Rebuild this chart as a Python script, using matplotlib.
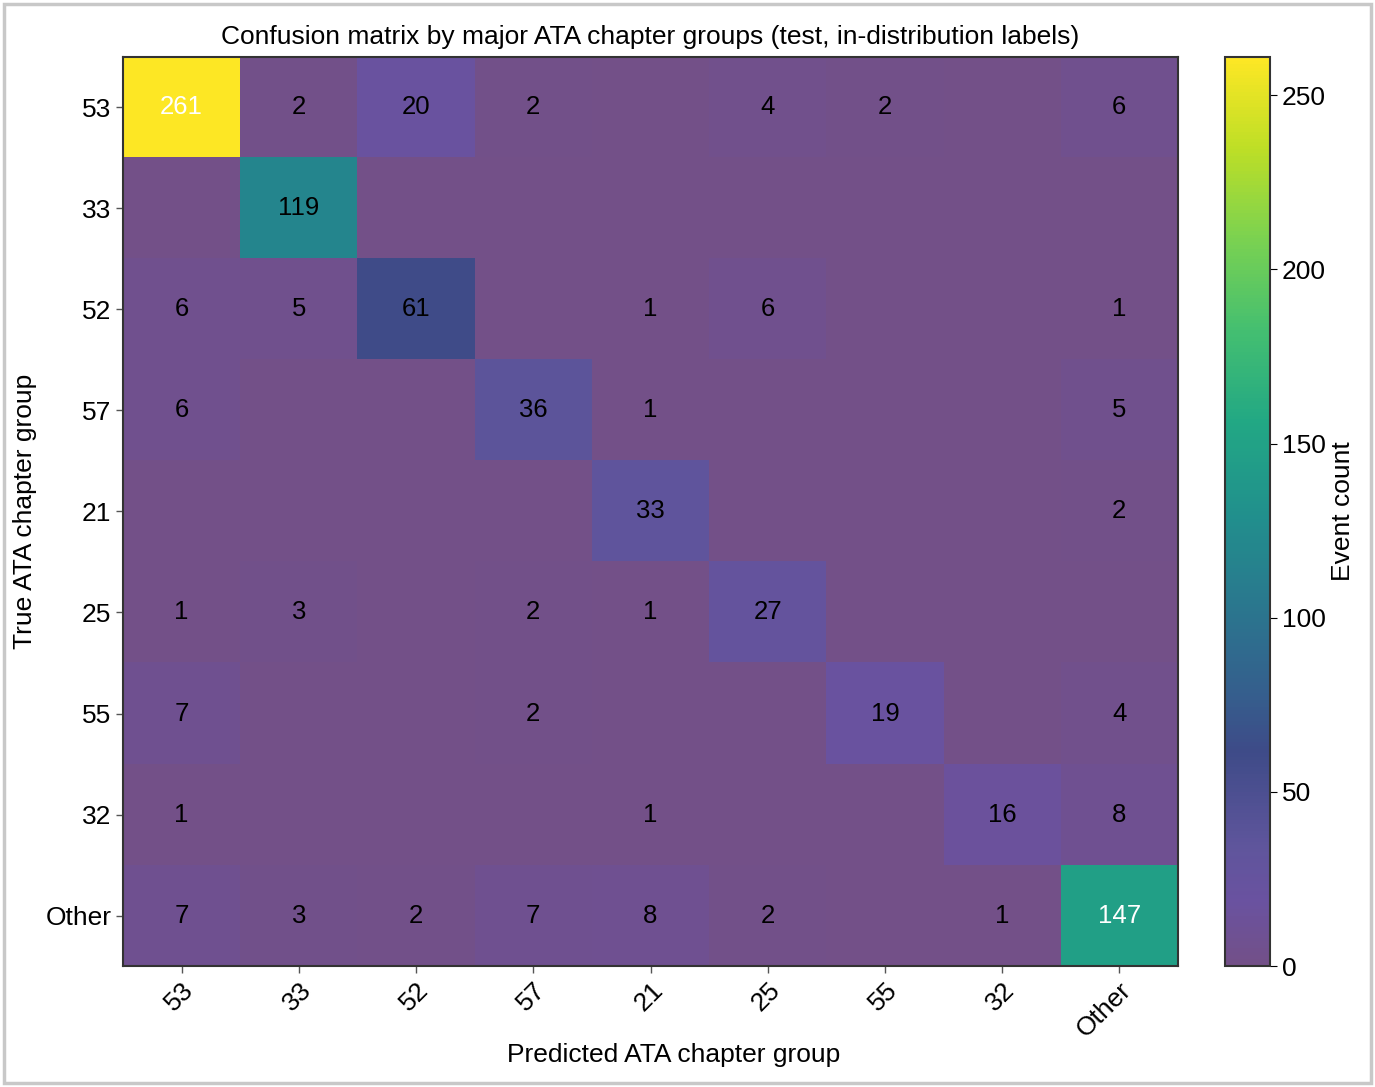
import numpy as np
import matplotlib
matplotlib.use('Agg')
from matplotlib import pyplot as plt
from matplotlib.patches import Rectangle
from matplotlib.colors import LinearSegmentedColormap

plt.rcParams['font.family'] = ['Liberation Sans', 'DejaVu Sans']

groups = ['53', '33', '52', '57', '21', '25', '55', '32', 'Other']

# rows = true group, columns = predicted group
counts = [
    [261, 2, 20, 2, 0, 4, 2, 0, 6],
    [0, 119, 0, 0, 0, 0, 0, 0, 0],
    [6, 5, 61, 0, 1, 6, 0, 0, 1],
    [6, 0, 0, 36, 1, 0, 0, 0, 5],
    [0, 0, 0, 0, 33, 0, 0, 0, 2],
    [1, 3, 0, 2, 1, 27, 0, 0, 0],
    [7, 0, 0, 2, 0, 0, 19, 0, 4],
    [1, 0, 0, 0, 1, 0, 0, 16, 8],
    [7, 3, 2, 7, 8, 2, 0, 1, 147],
]

cbar_ticks = [0, 50, 100, 150, 200, 250]

cm = np.array(counts)

# viridis with a lighter purple low end, like the reference
vir = plt.get_cmap('viridis')
nodes = [(0.0, '#735088'), (0.07, '#6a52a0'), (0.13, '#5f559c'), (0.235, '#3e4b88')]
for t in np.linspace(0.3, 1.0, 8):
    nodes.append((t, vir(t)))
cmap = LinearSegmentedColormap.from_list('soft_viridis', nodes)

fig = plt.figure(figsize=(13.75, 10.87), dpi=100)
ax = fig.add_axes([0.0895, 0.1113, 0.7672, 0.8363])
cax = fig.add_axes([0.891, 0.1113, 0.0327, 0.8363])

im = ax.imshow(cm, cmap=cmap, aspect='auto', vmin=0, vmax=cm.max())

thresh = cm.max() / 2
for i in range(cm.shape[0]):
    for j in range(cm.shape[1]):
        if cm[i, j] > 0:
            ax.text(j, i, str(cm[i, j]), ha='center', va='center', fontsize=18.5,
                    color='white' if cm[i, j] > thresh else 'black')

ax.set_xticks(range(len(groups)))
ax.set_xticklabels(groups, rotation=45, ha='right', rotation_mode='anchor', fontsize=19)
ax.set_yticks(range(len(groups)))
ax.set_yticklabels(groups, fontsize=19)
ax.tick_params(length=5, width=1, color='#555555')
ax.set_xlabel('Predicted ATA chapter group', fontsize=19, labelpad=0)
ax.xaxis.set_label_coords(0.522, -0.085)
ax.set_ylabel('True ATA chapter group', fontsize=19, labelpad=6)
ax.set_title('Confusion matrix by major ATA chapter groups (test, in-distribution labels)',
             fontsize=19, pad=9)
for s in ax.spines.values():
    s.set_color('#333333')
    s.set_linewidth(1.5)

cbar = fig.colorbar(im, cax=cax, ticks=cbar_ticks)
cbar.set_label('Event count', fontsize=19)
cbar.ax.tick_params(labelsize=19, length=5)
cbar.outline.set_edgecolor('#333333')
cbar.outline.set_linewidth(1.5)

fig.patches.append(Rectangle((0.003, 0.004), 0.994, 0.992, transform=fig.transFigure,
                             fill=False, edgecolor='#c8c8c8', linewidth=2.5))

fig.savefig('out.png', dpi=100)
